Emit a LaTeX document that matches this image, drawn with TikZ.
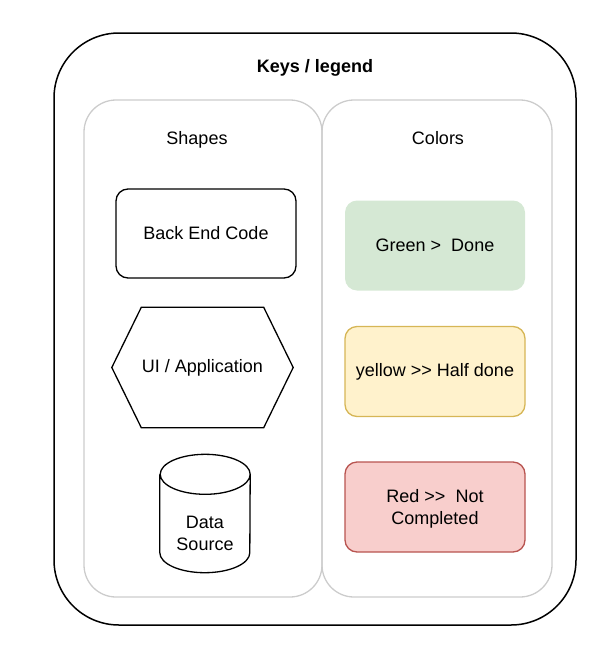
\documentclass[tikz,border=0pt]{standalone}
\usepackage{fontspec}
\setmainfont{Liberation Sans}[Ligatures=TeXOff]
\usetikzlibrary{shapes.geometric}
\definecolor{doneGreen}{HTML}{D5E8D4}
\definecolor{halfFill}{HTML}{FFF2CC}
\definecolor{halfLine}{HTML}{D6B656}
\definecolor{notFill}{HTML}{F8CECC}
\definecolor{notLine}{HTML}{B85450}
\begin{document}
\begin{tikzpicture}[x=1pt,y=-1pt]
\useasboundingbox (0,0) rectangle (611,672);

\begin{scope}[node distance=134pt,every node/.style={font=\fontsize{18}{22}\selectfont},panel/.style={draw=gray!40,line width=1.3pt,rounded corners=32pt,minimum width=238pt,minimum height=497pt},codebox/.style={draw,line width=1.3pt,rounded corners=12pt,minimum width=180pt,minimum height=89pt},colorbox/.style={codebox,minimum height=90pt},hexa/.style={minimum width=181pt,minimum height=120pt},store/.style={minimum width=90pt,minimum height=118pt},outline/.style={line width=1.3pt}]
% Frames
\node[draw,line width=1.5pt,rounded corners=65pt,minimum width=522pt,minimum height=592pt] (legend) at (315,329) {};
\node[panel] (shapes) at (203,348.5) {};
\node[panel,minimum width=230pt] (colors) at (437,348.5) {};
\node[font=\bfseries\fontsize{18}{22}\selectfont] (title) at (315,68) {Keys / legend};
\node (shapesT) at (197,140) {Shapes};
\node (colorsT) at (438,138) {Colors};

% Shapes
\node[codebox] (be) at (206,233.5) {Back End Code};
\node[hexa,below of = be,xshift=-3.5pt] (ui) {UI / Application};
\draw[outline] (ui.west) -- ([xshift=29.5pt]ui.north west) -- ([xshift=-29.5pt]ui.north east) -- (ui.east) -- ([xshift=-29.5pt]ui.south east) -- ([xshift=29.5pt]ui.south west) -- cycle;
\node[store,below of = ui,xshift=2.5pt,yshift=-12pt] (ds) {};
\draw[outline] ([yshift=-20pt]ds.north west) -- ([yshift=20pt]ds.south west) arc[start angle=180,end angle=360,x radius=45pt,y radius=20pt] -- ([yshift=-20pt]ds.north east) arc[start angle=0,end angle=180,x radius=45pt,y radius=20pt] arc[start angle=180,end angle=360,x radius=45pt,y radius=20pt];
\node[align=center,below of = ds,node distance=20pt] (dsT) {Data\\Source};

% Colors
\node[colorbox,fill=doneGreen,draw=none] (green) at (435,245.5) {Green >\ \ Done};
\node[colorbox,below of = green,yshift=8pt,fill=halfFill,draw=halfLine] (yellow) {yellow >> Half done};
\node[colorbox,below of = yellow,yshift=-1.5pt,fill=notFill,draw=notLine,align=center,text depth=0pt] (red) {Red >>\ \ Not\\Completed};

\end{scope}

\end{tikzpicture}
\end{document}
